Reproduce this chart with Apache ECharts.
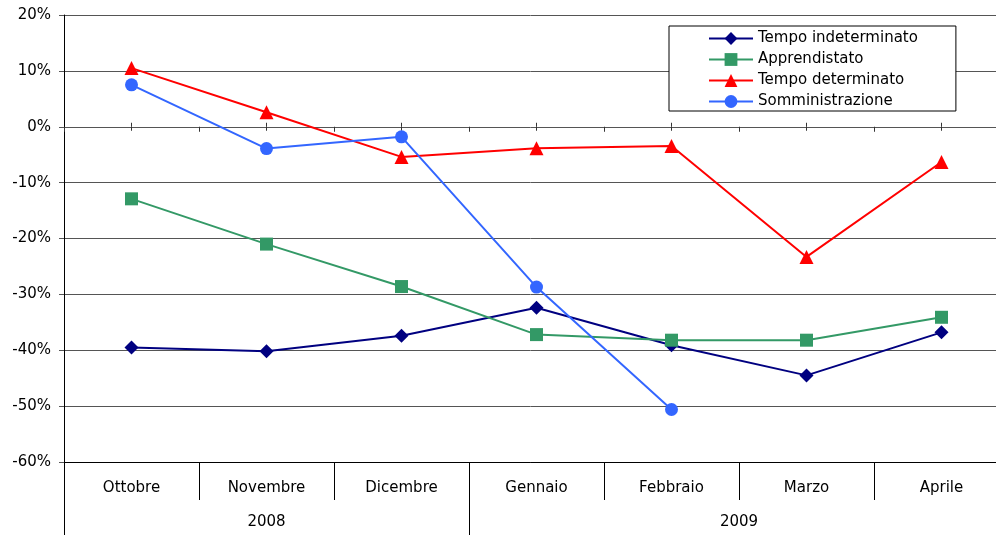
<!DOCTYPE html>
<html>
<head>
<meta charset="utf-8">
<script src="https://cdn.jsdelivr.net/npm/echarts@6/dist/echarts.min.js"></script>
<style>
  html, body { margin: 0; padding: 0; background: #fff; }
  #chart { width: 996px; height: 536px; }
</style>
</head>
<body>
<div id="chart"></div>
<script>
// mesi e anni
const months = ['Ottobre', 'Novembre', 'Dicembre', 'Gennaio', 'Febbraio', 'Marzo', 'Aprile'];
const years = ['2008', '2009'];
const yearSpans = [3, 4];

// variazioni percentuali
const tempoIndeterminato = [-39.5, -40.2, -37.4, -32.4, -39.1, -44.5, -36.8];
const apprendistato = [-12.9, -21.0, -28.6, -37.2, -38.2, -38.2, -34.1];
const tempoDeterminato = [10.5, 2.6, -5.4, -3.85, -3.45, -23.3, -6.3];
const somministrazione = [7.5, -3.9, -1.8, -28.7, -50.6, null, null];

const yTicks = [-60, -50, -40, -30, -20, -10, 0, 10, 20];

const font = 'DejaVu Sans';

// posizioni centrali degli anni (in unità di categoria)
const yearCenters = [];
const yearBounds = [0];
let acc = 0;
yearSpans.forEach(s => {
  yearCenters.push(acc + s / 2);
  acc += s;
  yearBounds.push(acc);
});

const chart = echarts.init(document.getElementById('chart'));

const lineSeries = (name, data, color, symbol, size) => ({
  name,
  type: 'line',
  data,
  xAxisIndex: 0,
  symbol,
  symbolSize: size,
  connectNulls: false,
  lineStyle: { color, width: 2 },
  itemStyle: { color },
  emphasis: { disabled: true }
});

const option = {
  animation: false,
  textStyle: { fontFamily: font },
  // l'area del grafico prosegue oltre il bordo destro (come nell'originale)
  grid: { left: 64, width: 945, top: 15, bottom: 74, containLabel: false, outerBoundsMode: 'none' },
  legend: {
    orient: 'vertical',
    left: 669,
    top: 26,
    padding: [5, 38, 2, 39],
    itemWidth: 44,
    itemHeight: 16,
    itemGap: 6,
    borderColor: '#000',
    borderWidth: 1,
    borderRadius: 0,
    backgroundColor: '#fff',
    textStyle: { fontFamily: font, fontSize: 15, color: '#000' },
    data: ['Tempo indeterminato', 'Apprendistato', 'Tempo determinato', 'Somministrazione']
  },
  xAxis: [
    {
      // etichette dei mesi
      type: 'category',
      data: months,
      position: 'bottom',
      axisLine: { onZero: false, lineStyle: { color: '#000', width: 1 } },
      axisTick: { show: true, length: 38, lineStyle: { color: '#000' } },
      axisLabel: { fontFamily: font, fontSize: 15, color: '#000', margin: 19 },
      splitLine: { show: false }
    },
    {
      // anni
      type: 'value',
      min: 0,
      max: months.length,
      position: 'bottom',
      axisLine: { show: false, onZero: false },
      axisTick: { show: true, length: 73, customValues: yearBounds.slice(0, -1), lineStyle: { color: '#000' } },
      axisLabel: {
        fontFamily: font, fontSize: 15, color: '#000', margin: 53,
        customValues: yearCenters,
        formatter: v => {
          const i = yearCenters.findIndex(c => Math.abs(c - v) < 1e-6);
          return i >= 0 ? years[i] : '';
        }
      },
      splitLine: { show: false }
    },
    {
      // tacche all'asse zero (confini)
      type: 'category',
      data: months,
      position: 'bottom',
      axisLine: { show: false, onZero: true, onZeroAxisIndex: 0 },
      axisTick: { show: true, length: 5, lineStyle: { color: '#333' } },
      axisLabel: { show: false },
      splitLine: { show: false }
    },
    {
      // tacche all'asse zero (centri, sopra)
      type: 'category',
      data: months,
      position: 'bottom',
      axisLine: { show: false, onZero: true, onZeroAxisIndex: 0 },
      axisTick: { show: true, inside: true, alignWithLabel: true, length: 4, lineStyle: { color: '#333' } },
      axisLabel: { show: false },
      splitLine: { show: false }
    },
    {
      // tacche all'asse zero (centri, sotto)
      type: 'category',
      data: months,
      position: 'bottom',
      axisLine: { show: false, onZero: true, onZeroAxisIndex: 0 },
      axisTick: { show: true, alignWithLabel: true, length: 4, lineStyle: { color: '#333' } },
      axisLabel: { show: false },
      splitLine: { show: false }
    }
  ],
  yAxis: {
    type: 'value',
    min: yTicks[0],
    max: yTicks[yTicks.length - 1],
    interval: 10,
    axisLine: { show: true, lineStyle: { color: '#000', width: 1 } },
    axisTick: { show: true, length: 5, lineStyle: { color: '#555' } },
    axisLabel: { fontFamily: font, fontSize: 15, color: '#000', margin: 13, formatter: v => v + '%' },
    splitLine: { show: true, lineStyle: { color: '#555', width: 1 } }
  },
  series: [
    lineSeries('Tempo indeterminato', tempoIndeterminato, '#000080', 'diamond', 14),
    lineSeries('Apprendistato', apprendistato, '#339966', 'rect', 13),
    lineSeries('Tempo determinato', tempoDeterminato, '#ff0000', 'triangle', 14),
    lineSeries('Somministrazione', somministrazione, '#3366ff', 'circle', 13)
  ]
};

chart.setOption(option);
</script>
</body>
</html>
